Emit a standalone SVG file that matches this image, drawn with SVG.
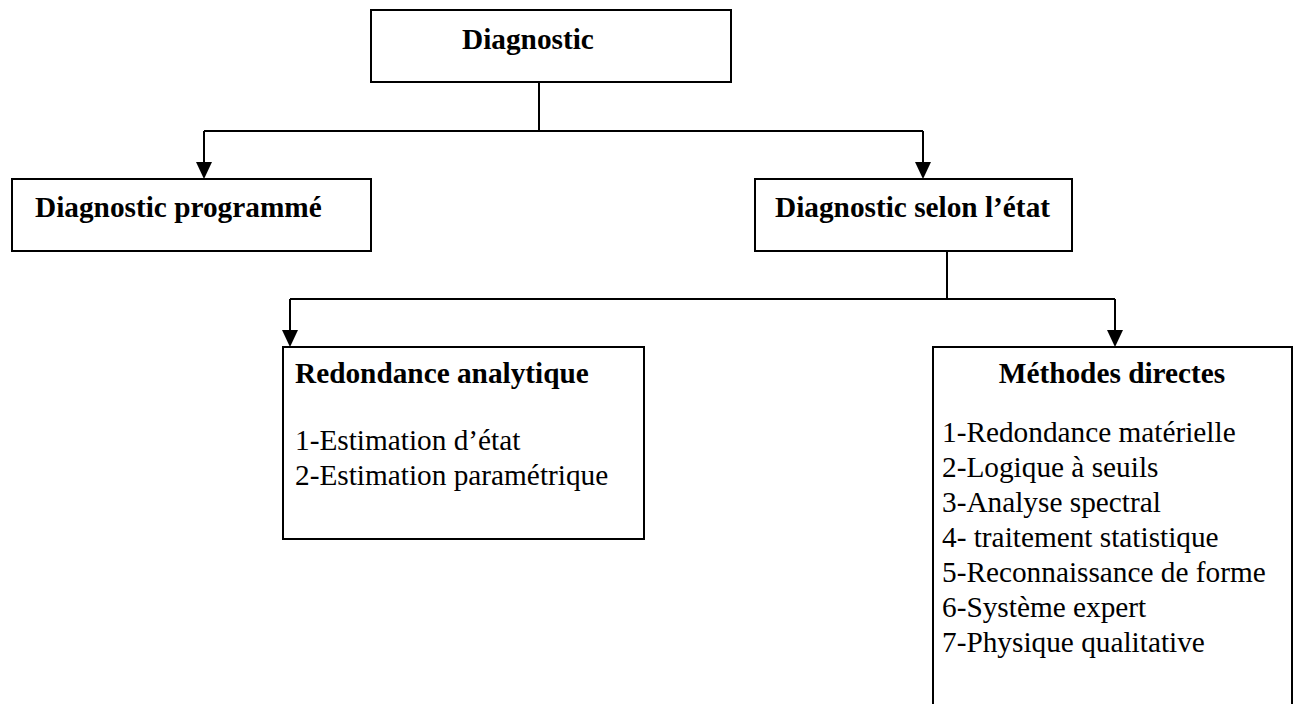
<svg xmlns="http://www.w3.org/2000/svg" width="1298" height="704" viewBox="0 0 1298 704">
  <style>
    .box { fill: #ffffff; stroke: #000000; stroke-width: 2; }
    .link { fill: none; stroke: #000000; stroke-width: 2; }
    .head { fill: #000000; stroke: none; }
    text { font-family: 'Liberation Serif', Tinos, 'Times New Roman', 'DejaVu Serif', serif; font-size: 29.3px; fill: #000000; }
    .title { font-weight: bold; }
  </style>
  <rect width="1298" height="704" fill="#ffffff"/>

  <g id="connectors">
    <!-- root to first level -->
    <path class="link" d="M539,82 V131"/>
    <path class="link" d="M204,131 H923"/>
    <path class="link" d="M204,131 V162"/>
    <path class="link" d="M923,131 V162"/>
    <path class="head" d="M196,162 H212 L204,179 Z"/>
    <path class="head" d="M915,162 H931 L923,179 Z"/>
    <!-- state-based diagnosis to second level -->
    <path class="link" d="M947,251 V299"/>
    <path class="link" d="M290,299 H1115"/>
    <path class="link" d="M290,299 V330"/>
    <path class="link" d="M1115,299 V330"/>
    <path class="head" d="M282,330 H298 L290,347 Z"/>
    <path class="head" d="M1107,330 H1123 L1115,347 Z"/>
  </g>

  <g id="node-diagnostic">
    <rect class="box" x="371" y="10" width="360" height="72"/>
    <text class="title" x="462" y="49" font-family="Liberation Serif, serif">Diagnostic</text>
  </g>

  <g id="node-programme">
    <rect class="box" x="12" y="179" width="359" height="72"/>
    <text class="title" x="35" y="217" font-family="Liberation Serif, serif">Diagnostic programmé</text>
  </g>

  <g id="node-selon-etat">
    <rect class="box" x="755" y="179" width="317" height="72"/>
    <text class="title" x="775" y="217" font-family="Liberation Serif, serif">Diagnostic selon l’état</text>
  </g>

  <g id="node-redondance">
    <rect class="box" x="283" y="347" width="361" height="192"/>
    <text class="title" x="295" y="383" font-family="Liberation Serif, serif">Redondance analytique</text>
    <text x="295" y="450" font-family="Liberation Serif, serif">1-Estimation d’état</text>
    <text x="295" y="485" font-family="Liberation Serif, serif">2-Estimation paramétrique</text>
  </g>

  <g id="node-methodes">
    <rect class="box" x="933" y="347" width="359" height="380"/>
    <text class="title" x="1112" y="383" text-anchor="middle" font-family="Liberation Serif, serif">Méthodes directes</text>
    <text x="942" y="442" font-family="Liberation Serif, serif">1-Redondance matérielle</text>
    <text x="942" y="477" font-family="Liberation Serif, serif">2-Logique à seuils</text>
    <text x="942" y="512" font-family="Liberation Serif, serif">3-Analyse spectral</text>
    <text x="942" y="547" font-family="Liberation Serif, serif">4- traitement statistique</text>
    <text x="942" y="582" font-family="Liberation Serif, serif">5-Reconnaissance de forme</text>
    <text x="942" y="617" font-family="Liberation Serif, serif">6-Système expert</text>
    <text x="942" y="652" font-family="Liberation Serif, serif">7-Physique qualitative</text>
  </g>
</svg>
